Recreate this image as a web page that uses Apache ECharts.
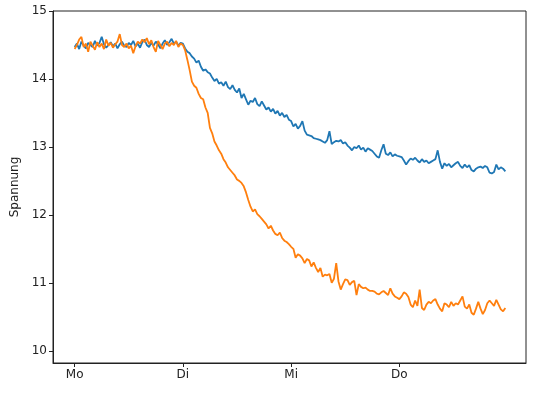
<!DOCTYPE html>
<html><head><meta charset="utf-8">
<script src="https://cdn.jsdelivr.net/npm/echarts@6/dist/echarts.min.js"></script>
<style>html,body{margin:0;padding:0;background:#fff}#c{width:541px;height:393px}</style>
</head><body><div id="c"></div>
<script>
// sampling: 48 samples per day (30 min), day 0 = Mo
const samplesPerDay = 48;
const dayLabels = ['Mo', 'Di', 'Mi', 'Do'];
const yTicks = [10, 11, 12, 13, 14, 15];
const yName = 'Spannung';

const seriesBlue = [
14.47,14.52,14.44,14.55,14.49,14.45,14.53,14.50,14.47,14.56,14.49,14.53,
14.62,14.51,14.46,14.50,14.54,14.48,14.52,14.45,14.51,14.55,14.49,14.47,
14.53,14.50,14.56,14.48,14.52,14.46,14.54,14.58,14.50,14.47,14.53,14.49,
14.55,14.51,14.45,14.52,14.57,14.50,14.54,14.59,14.52,14.55,14.49,14.53,
14.52,14.45,14.40,14.38,14.33,14.30,14.24,14.27,14.18,14.12,14.14,14.10,
14.08,14.02,13.97,14.00,13.93,13.95,13.90,13.96,13.88,13.85,13.91,13.84,
13.80,13.86,13.72,13.78,13.70,13.62,13.68,13.66,13.72,13.63,13.60,13.67,
13.61,13.55,13.58,13.52,13.56,13.49,13.53,13.46,13.50,13.44,13.47,13.40,
13.38,13.30,13.34,13.27,13.31,13.38,13.24,13.18,13.17,13.16,13.13,13.12,
13.11,13.10,13.08,13.06,13.10,13.23,13.04,13.07,13.09,13.08,13.10,13.05,
13.07,13.02,12.99,12.95,13.00,12.98,13.02,12.96,12.99,12.93,12.98,12.96,
12.94,12.90,12.86,12.84,12.95,13.04,12.90,12.88,12.92,12.86,12.89,12.87,
12.86,12.85,12.80,12.74,12.79,12.83,12.81,12.84,12.80,12.77,12.82,12.78,
12.80,12.76,12.78,12.80,12.82,12.95,12.78,12.68,12.76,12.72,12.75,12.70,
12.73,12.76,12.78,12.72,12.69,12.74,12.70,12.73,12.66,12.64,12.68,12.70,
12.71,12.69,12.72,12.70,12.62,12.61,12.63,12.74,12.67,12.70,12.68,12.64
];

const seriesOrange = [
14.44,14.50,14.58,14.62,14.47,14.52,14.40,14.55,14.49,14.43,14.54,14.47,
14.52,14.44,14.58,14.49,14.53,14.46,14.51,14.55,14.66,14.50,14.47,14.52,
14.45,14.49,14.38,14.48,14.55,14.52,14.58,14.54,14.60,14.51,14.57,14.47,
14.40,14.56,14.50,14.44,14.52,14.55,14.48,14.53,14.50,14.56,14.47,14.52,
14.50,14.42,14.28,14.13,13.96,13.90,13.87,13.78,13.72,13.70,13.58,13.50,
13.28,13.20,13.08,13.02,12.95,12.90,12.82,12.77,12.70,12.66,12.62,12.58,
12.52,12.50,12.47,12.42,12.33,12.22,12.12,12.05,12.08,12.01,11.98,11.94,
11.90,11.86,11.80,11.84,11.77,11.72,11.70,11.74,11.66,11.62,11.60,11.57,
11.53,11.50,11.37,11.42,11.40,11.36,11.29,11.35,11.33,11.24,11.30,11.22,
11.16,11.22,11.09,11.12,11.11,11.13,11.00,11.06,11.29,11.02,10.90,10.98,
11.05,11.04,10.97,11.01,11.03,10.82,10.98,10.94,10.92,10.93,10.90,10.88,
10.88,10.87,10.84,10.83,10.86,10.88,10.85,10.82,10.92,10.84,10.80,10.78,
10.76,10.80,10.86,10.84,10.79,10.68,10.64,10.74,10.66,10.90,10.63,10.60,
10.68,10.72,10.70,10.74,10.76,10.68,10.62,10.58,10.70,10.68,10.64,10.72,
10.66,10.70,10.68,10.74,10.80,10.65,10.62,10.68,10.56,10.53,10.62,10.72,
10.62,10.54,10.60,10.70,10.74,10.70,10.66,10.75,10.68,10.61,10.58,10.63
];

const toPairs = arr => arr.map((v, i) => [i / samplesPerDay, v]);
const dayTicks = dayLabels.map((_, i) => i);

const chart = echarts.init(document.getElementById('c'), null, {renderer: 'canvas'});
const txt = {color: '#222', fontSize: 12, fontFamily: 'DejaVu Sans'};
chart.setOption({
  animation: false,
  backgroundColor: '#fff',
  grid: {left: 53, right: 15, top: 11, bottom: 30, show: true, borderColor: '#222', borderWidth: 1, backgroundColor: 'transparent', containLabel: false, outerBoundsMode: 'none'},
  xAxis: {
    type: 'value', min: -0.2, max: 4.17,
    axisLine: {show: true, onZero: false, lineStyle: {color: '#222', width: 1}},
    axisTick: {show: true, length: 4, customValues: dayTicks, lineStyle: {color: '#222'}},
    axisLabel: Object.assign({customValues: dayTicks, margin: 6, formatter: v => dayLabels[Math.round(v)]}, txt),
    splitLine: {show: false}
  },
  yAxis: {
    type: 'value', min: 9.82, max: 15,
    name: yName, nameLocation: 'middle', nameGap: 32, nameRotate: 90,
    nameTextStyle: txt,
    axisLine: {show: true, onZero: false, lineStyle: {color: '#222', width: 1}},
    axisTick: {show: true, length: 4, customValues: yTicks, lineStyle: {color: '#222'}},
    axisLabel: Object.assign({customValues: yTicks, margin: 6}, txt),
    splitLine: {show: false}
  },
  series: [
    {type: 'line', data: toPairs(seriesBlue), showSymbol: false, color: '#1f77b4', lineStyle: {width: 1.8, color: '#1f77b4'}, z: 2},
    {type: 'line', data: toPairs(seriesOrange), showSymbol: false, color: '#ff7f0e', lineStyle: {width: 1.8, color: '#ff7f0e'}, z: 3}
  ]
});
</script></body></html>
